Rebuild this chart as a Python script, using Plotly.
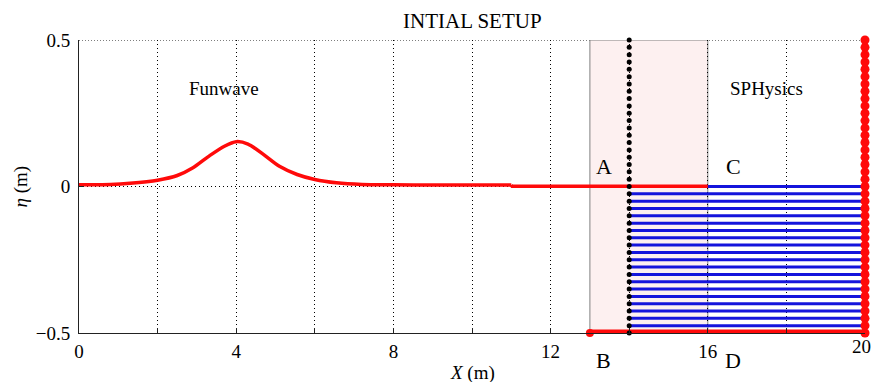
import numpy as np
import plotly.graph_objects as go

# ---- data ----
wave_x = [0, 0.8, 1.3, 2.0, 2.5, 2.9, 3.3, 3.7, 4.0, 4.3, 4.7, 5.1, 5.55, 6.0, 6.55, 7.2, 8, 9, 10, 11]
wave_eta = [0.006, 0.007, 0.011, 0.0215, 0.0375, 0.064, 0.103, 0.1375, 0.153, 0.145, 0.109, 0.069, 0.041, 0.024, 0.0126, 0.007, 0.006, 0.005, 0.005, 0.005]
still_x = [11, 11.02, 12, 13, 14, 15, 16]
still_eta = [0.005, 0.001, 0.001, 0.001, 0.001, 0.001, 0.001]

sph_levels = [0, -0.025, -0.05, -0.075, -0.1, -0.125, -0.15, -0.175, -0.2, -0.225,
              -0.25, -0.275, -0.3, -0.325, -0.35, -0.375, -0.4, -0.425, -0.45, -0.475]
sph_x_start = 14
sph_x_end = 19.95

coupling_x = 14
coupling_eta = [-0.5 + 0.025 * i for i in range(41)]

wall_x = 20
wall_eta = [-0.5 + 0.025 * i for i in range(41)]

bottom_x = [13, 20]
bottom_eta = [-0.5, -0.5]

overlap_x = [13, 16]

x_range = [0, 20]
y_range = [-0.5, 0.5]
x_ticks = [0, 2, 4, 6, 8, 10, 12, 14, 16, 18, 20]
x_ticklabels = ["0", "", "4", "", "8", "", "12", "", "16", "", ""]
edge_ticklabel = ("20", 20)
y_ticks = [-0.5, 0, 0.5]
y_ticklabels = ["\u22120.5", "0", "0.5"]

top_labels = [("A", 13.35, 0.068), ("C", 16.65, 0.068)]
bottom_labels = [("B", 13.35), ("D", 16.65)]
region_labels = [("Funwave", 3.7, 0.335), ("SPHysics", 17.5, 0.335)]

FONT = "Liberation Serif, Times New Roman, serif"
RED = "#ff0a0a"

fig = go.Figure()

# top dotted gridline (at upper axis limit)
fig.add_shape(type="line", xref="x", yref="y", x0=x_range[0], x1=x_range[1], y0=y_range[1], y1=y_range[1],
              line=dict(color="black", width=1, dash="1px,2px"), layer="below")

# SPH particle lines (blue)
bx, by = [], []
for lv in sph_levels:
    bx += [sph_x_start, sph_x_end, None]
    by += [lv, lv, None]
fig.add_trace(go.Scatter(x=bx, y=by, mode="lines", line=dict(color="#1414dc", width=3),
                         hoverinfo="skip", showlegend=False))

# Funwave free surface
fig.add_trace(go.Scatter(x=wave_x, y=wave_eta, mode="lines",
                         line=dict(color=RED, width=3.5, shape="spline", smoothing=0.8), showlegend=False))
fig.add_trace(go.Scatter(x=still_x, y=still_eta, mode="lines",
                         line=dict(color=RED, width=3.5), showlegend=False))

# bottom boundary
fig.add_trace(go.Scatter(x=bottom_x, y=bottom_eta, mode="lines+markers",
                         line=dict(color=RED, width=7),
                         marker=dict(color=RED, size=8), cliponaxis=False, showlegend=False))

# coupling line (black dots)
fig.add_trace(go.Scatter(x=[coupling_x] * len(coupling_eta), y=coupling_eta, mode="markers",
                         marker=dict(color="black", size=5), cliponaxis=False, showlegend=False))

# right wall
fig.add_trace(go.Scatter(x=[wall_x] * len(wall_eta), y=wall_eta, mode="lines+markers",
                         line=dict(color=RED, width=5),
                         marker=dict(color=RED, size=9), cliponaxis=False, showlegend=False))

# overlap region
fig.add_shape(type="rect", xref="x", yref="y", x0=overlap_x[0], x1=overlap_x[1], y0=y_range[0], y1=y_range[1],
              fillcolor="#fdf0f0", line=dict(color="#808080", width=1), layer="below")

for t, x, y in top_labels:
    fig.add_annotation(x=x, y=y, text=t, showarrow=False, font=dict(family=FONT, size=22, color="black"))
for t, x in bottom_labels:
    fig.add_annotation(x=x, y=0, xref="x", yref="paper", yanchor="middle", yshift=-27,
                       text=t, showarrow=False, font=dict(family=FONT, size=22, color="black"))
for t, x, y in region_labels:
    fig.add_annotation(x=x, y=y, text=t, showarrow=False, font=dict(family=FONT, size=19, color="black"))

# tick label at the right edge (kept inside the figure)
fig.add_annotation(x=edge_ticklabel[1], y=0, xref="x", yref="paper", yanchor="top", yshift=-1,
                   xanchor="right", xshift=8,
                   text=edge_ticklabel[0], showarrow=False, font=dict(family=FONT, size=19, color="black"))

# titles
fig.add_annotation(x=0.5, y=1, xref="paper", yref="paper", yanchor="bottom", yshift=5,
                   text="INTIAL SETUP", showarrow=False, font=dict(family=FONT, size=21, color="black"))
fig.add_annotation(x=0.5, y=0, xref="paper", yref="paper", yanchor="middle", yshift=-40,
                   text="<i>X</i> (m)", showarrow=False, font=dict(family=FONT, size=19, color="black"))
fig.add_annotation(x=0, y=0.5, xref="paper", yref="paper", xanchor="center", xshift=-59,
                   text="<i>η</i> (m)", textangle=-90, showarrow=False, font=dict(family=FONT, size=19, color="black"))

fig.update_layout(
    width=873, height=382,
    margin=dict(l=79, r=8, t=40, b=49, autoexpand=False),
    plot_bgcolor="white", paper_bgcolor="white",
    font=dict(family=FONT, size=19, color="black"),
    showlegend=False,
)
fig.update_xaxes(range=x_range, tickvals=x_ticks, ticktext=x_ticklabels, ticks="inside", ticklen=5,
                 tickcolor="#222", showline=True, linecolor="#222", linewidth=1, mirror=False,
                 showgrid=True, gridcolor="black", griddash="1px,3px", gridwidth=1, zeroline=False,
                 ticklabelstandoff=1, automargin=False)
fig.update_yaxes(range=y_range, tickvals=y_ticks, ticktext=y_ticklabels, ticks="inside", ticklen=5,
                 tickcolor="#222", showline=True, linecolor="#222", linewidth=1, mirror=False,
                 showgrid=True, gridcolor="black", griddash="1px,3px", gridwidth=1, zeroline=False,
                 ticklabelstandoff=4, automargin=False)

fig.write_html("out.html", config={"displayModeBar": False},
               post_script="document.body.style.margin='0';document.body.style.padding='0';document.body.style.overflow='hidden';")
